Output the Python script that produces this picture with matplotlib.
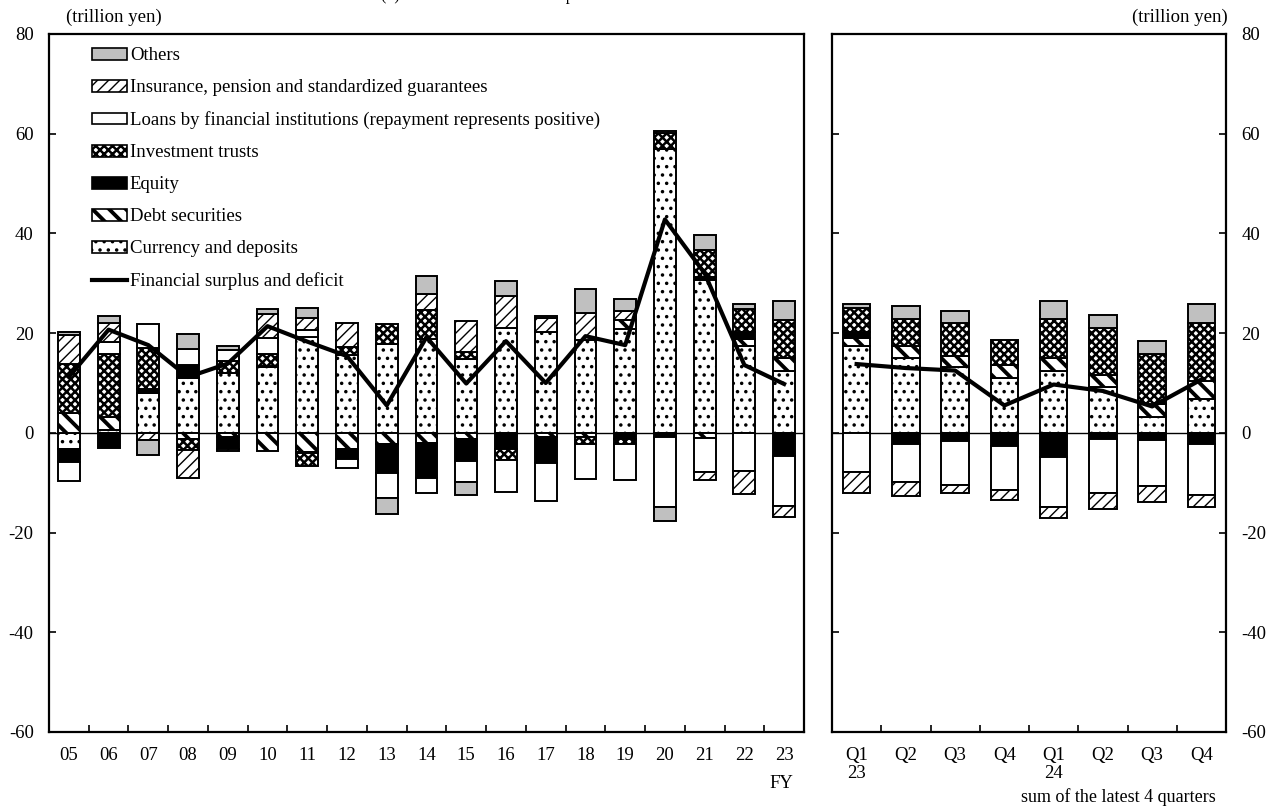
import numpy as np
import matplotlib
matplotlib.use("Agg")
import matplotlib.pyplot as plt
from matplotlib.patches import Patch
from matplotlib.lines import Line2D

plt.rcParams['font.family'] = ['Liberation Serif', 'DejaVu Serif']
plt.rcParams['font.size'] = 13.5
plt.rcParams['axes.unicode_minus'] = False

# -------------------------------------------
# Data (trillion yen)
# -------------------------------------------
fy_labels = ['05', '06', '07', '08', '09', '10', '11', '12', '13', '14',
             '15', '16', '17', '18', '19', '20', '21', '22', '23']
q_labels = ['Q1\n23', 'Q2', 'Q3', 'Q4', 'Q1\n24', 'Q2', 'Q3', 'Q4']

series_names = ['Currency and deposits', 'Debt securities', 'Equity', 'Investment trusts',
                'Loans by financial institutions (repayment represents positive)',
                'Insurance, pension and standardized guarantees', 'Others']

# fiscal years 05-23
fy_currency  = [-3.3, 0.5, 7.9, 11.1, 12.0, 13.2, 19.3, 15.6, 17.9, 18.9, 14.9, 21.1, 20.3, 18.7, 20.9, 57.0, 30.6, 17.4, 12.4]
fy_debt      = [3.9, 2.7, 0.0, -1.2, -0.8, -3.7, -3.9, -3.2, -2.3, -2.0, -1.2, 0.0, -0.8, -0.8, 1.8, 0.0, -1.0, 1.5, 2.7]
fy_equity    = [-2.5, -3.1, 0.8, 2.5, -2.5, 0.3, -0.2, -2.0, -5.8, -7.0, -4.5, -3.2, -5.2, 0.0, -1.3, -0.8, 0.7, 1.3, -4.7]
fy_invest    = [9.9, 12.7, 8.3, -2.3, 2.5, 2.3, -2.6, 1.7, 3.9, 5.8, 1.3, -2.3, 0.0, -1.5, -1.0, 3.2, 5.3, 4.7, 7.6]
fy_loans     = [-3.8, 2.3, 4.9, 3.3, 2.2, 3.2, 1.3, -1.8, -4.9, -3.1, -4.2, -6.4, -7.7, -7.0, -7.2, -14.0, -6.9, -7.7, -10.0]
fy_insurance = [5.8, 3.8, -1.5, -5.5, -0.4, 4.9, 2.5, 4.7, 0.0, 3.1, 6.3, 6.3, 2.7, 5.3, 1.7, 0.3, -1.5, -4.5, -2.2]
fy_others    = [0.7, 1.5, -2.9, 2.9, 0.7, 0.9, 2.0, 0.0, -3.3, 3.6, -2.6, 3.0, 0.5, 4.8, 2.5, -2.9, 3.0, 0.9, 3.7]
fy_surplus   = [11.2, 20.7, 17.6, 11.2, 13.9, 21.4, 18.3, 15.4, 5.5, 19.2, 9.9, 18.4, 10.0, 19.4, 17.6, 42.8, 32.0, 13.6, 9.8]

# sum of the latest 4 quarters, Q1 2023 - Q4 2024
q_currency  = [17.5, 15.0, 13.2, 11.0, 12.5, 9.2, 3.1, 6.7]
q_debt      = [1.5, 2.5, 2.3, 2.7, 2.5, 2.5, 2.7, 3.7]
q_equity    = [1.3, -2.2, -1.7, -2.7, -4.8, -1.3, -1.5, -2.3]
q_invest    = [4.7, 5.3, 6.6, 5.0, 7.8, 9.4, 10.1, 11.6]
q_loans     = [-7.8, -7.7, -8.7, -8.7, -10.0, -10.8, -9.2, -10.2]
q_insurance = [-4.3, -2.7, -1.7, -2.0, -2.2, -3.1, -3.1, -2.3]
q_others    = [0.9, 2.7, 2.3, 0.0, 3.7, 2.5, 2.5, 3.8]
q_surplus   = [13.8, 13.0, 12.5, 5.5, 9.7, 8.4, 5.3, 10.7]

# face colour, hatch, hatch line width
styles = {
    'Currency and deposits': ('white', '..', 1.3),
    'Debt securities': ('white', '\\\\', 2.8),
    'Equity': ('black', None, 1.0),
    'Investment trusts': ('white', 'xxxx', 1.8),
    'Loans by financial institutions (repayment represents positive)': ('white', None, 1.0),
    'Insurance, pension and standardized guarantees': ('white', '///', 1.0),
    'Others': ('#c0c0c0', None, 1.0),
}

W, H = 1277, 809


def draw_panel(ax, data, line, width):
    x = np.arange(len(line))
    pos = np.zeros(len(x))
    neg = np.zeros(len(x))
    for name, vals in zip(series_names, data):
        v = np.array(vals, dtype=float)
        fc, hatch, hlw = styles[name]
        bottom = np.where(v >= 0, pos, neg)
        keep = v != 0
        with plt.rc_context({'hatch.linewidth': hlw}):
            bars = ax.bar(x[keep], v[keep], width, bottom=bottom[keep], facecolor=fc,
                          edgecolor='black', linewidth=1.4, hatch=hatch, zorder=2)
        for b in bars:
            b.set_hatch_linewidth(hlw)
        pos += np.clip(v, 0, None)
        neg += np.clip(v, None, 0)
    ax.plot(x, line, color='black', lw=3, zorder=4)
    ax.axhline(0, color='black', lw=1.0, zorder=1.5)
    ax.set_xlim(-0.5, len(x) - 0.5)
    ax.set_ylim(-60, 80)
    ax.set_yticks(np.arange(-60, 81, 20))
    ax.set_xticks(x)
    ax.set_xticks(x[:-1] + 0.5, minor=True)
    ax.tick_params(axis='x', which='major', length=0, pad=11)
    ax.tick_params(axis='x', which='minor', direction='in', length=5, width=1.2)
    for s in ax.spines.values():
        s.set_linewidth(1.6)


fig = plt.figure(figsize=(W / 100, H / 100), dpi=100)
ax1 = fig.add_axes([49 / W, (H - 732) / H, 755 / W, 698 / H])
ax2 = fig.add_axes([832 / W, (H - 732) / H, 394 / W, 698 / H])

draw_panel(ax1, [fy_currency, fy_debt, fy_equity, fy_invest, fy_loans, fy_insurance, fy_others],
           fy_surplus, 0.55)
draw_panel(ax2, [q_currency, q_debt, q_equity, q_invest, q_loans, q_insurance, q_others],
           q_surplus, 0.56)

ax1.set_xticklabels(fy_labels)
ax2.set_xticklabels(q_labels, va='top', linespacing=1.05)
ax1.tick_params(axis='y', direction='in', length=5, width=1.2, pad=11)
ax2.tick_params(axis='y', direction='in', length=5, width=1.2, pad=11,
                left=True, right=True, labelleft=False, labelright=True)

# legend
legend_order = ['Others', 'Insurance, pension and standardized guarantees',
                'Loans by financial institutions (repayment represents positive)',
                'Investment trusts', 'Equity', 'Debt securities', 'Currency and deposits']
handles = []
for name in legend_order:
    fc, hatch, hlw = styles[name]
    with plt.rc_context({'hatch.linewidth': hlw}):
        handles.append(Patch(facecolor=fc, edgecolor='black', hatch=hatch, linewidth=1.2, label=name))
handles.append(Line2D([], [], color='black', lw=3, label='Financial surplus and deficit'))
leg = ax1.legend(handles=handles, loc='upper left', bbox_to_anchor=(0.057, 0.981), frameon=False,
                 borderpad=0, borderaxespad=0, handlelength=1.87, handleheight=0.6,
                 handletextpad=0.15, labelspacing=0.8, fontsize=13.5)
for h, name in zip(leg.legend_handles, legend_order):
    h.set_hatch_linewidth(styles[name][2])

fig.text(114 / W, 1 - 17 / H, '(trillion yen)', ha='center', va='center')
fig.text(1180 / W, 1 - 17 / H, '(trillion yen)', ha='center', va='center')
fig.text(781 / W, 1 - 783 / H, 'FY', ha='center', va='center')
fig.text(1118 / W, 1 - 797 / H, 'sum of the latest 4 quarters', ha='center', va='center',
         fontsize=13)
fig.text(381 / W, 1.0, "(1) Households' financial surplus and deficit", ha='left',
         va='baseline', fontsize=11.5)

fig.savefig('out.png', dpi=100)
